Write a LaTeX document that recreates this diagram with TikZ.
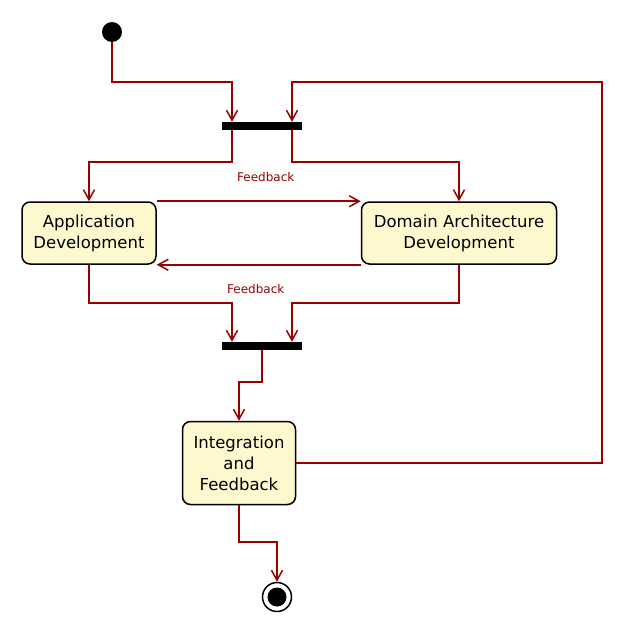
\documentclass[tikz,border=0pt]{standalone}
\usepackage{fontspec}
\setmainfont{DejaVu Sans}
\usetikzlibrary{arrows.meta}

\begin{document}
\begin{tikzpicture}[x=1pt,y=-1pt,
    activity/.style={shape=rectangle,draw=black,line width=1.5pt,fill=act_bgbox,rounded corners=8pt,align=center,inner sep=0pt,font=\fontsize{16.5}{21}\selectfont},
    syncbar/.style={shape=rectangle,fill=black,minimum width=80pt,minimum height=8pt,inner sep=0pt},
    flow/.style={draw=act_line,line width=1.8pt,-{Straight Barb[length=10pt,width=11pt,line width=1.5pt]}},
    fblabel/.style={text=act_line,font=\fontsize{12}{14}\selectfont}]
    \definecolor{act_bgbox}{RGB}{254,248,206}
    \definecolor{act_line}{RGB}{153,0,0}
    \useasboundingbox (0,0) rectangle (624,624);
    \node[shape=circle,fill=black,minimum size=20pt,inner sep=0pt] (start) at (112,32) {};
    \node[syncbar] (fork) at (262,126) {};
    \node[activity,minimum width=134pt,minimum height=62pt] (appdev) at (89,233) {Application\\Development};
    \node[activity,minimum width=195pt,minimum height=62pt] (domdev) at (459,233) {Domain Architecture\\Development};
    \node[syncbar] (join) at (262,346) {};
    \node[activity,minimum width=113pt,minimum height=83pt] (integ) at (239,463) {Integration\\and\\Feedback};
    \node[shape=circle,draw=black,line width=1.5pt,fill=white,minimum size=29pt,inner sep=0pt] (finish) at (277,597) {};
    \node[shape=circle,fill=black,minimum size=19pt,inner sep=0pt] at (finish) {};
    \coordinate (loopcorner) at (602,82);

    \draw[flow] (start.south) -- ++(0,40) -| ([xshift=-30pt]fork.north);
    \draw[flow] (integ.east) -| (loopcorner) -| ([xshift=30pt]fork.north);
    \draw[flow] ([xshift=-30pt]fork.south) -- ++(0,32) -| (appdev.north);
    \draw[flow] ([xshift=30pt]fork.south) -- ++(0,32) -| (domdev.north);
    \draw[flow] (appdev.north east) -- (domdev.north west) node[fblabel,midway,yshift=24pt,xshift=7pt] {Feedback};
    \draw[flow] (domdev.south west) -- (appdev.south east) node[fblabel,midway,yshift=-24pt,xshift=-3pt] {Feedback};
    \draw[flow] (appdev.south) -- ++(0,38) -| ([xshift=-30pt]join.north);
    \draw[flow] (domdev.south) -- ++(0,38) -| ([xshift=30pt]join.north);
    \draw[flow] (join.south) -- ++(0,32) -| (integ.north);
    \draw[flow] (integ.south) -- ++(0,37) -| (finish.north);
    \end{tikzpicture}
\end{document}
